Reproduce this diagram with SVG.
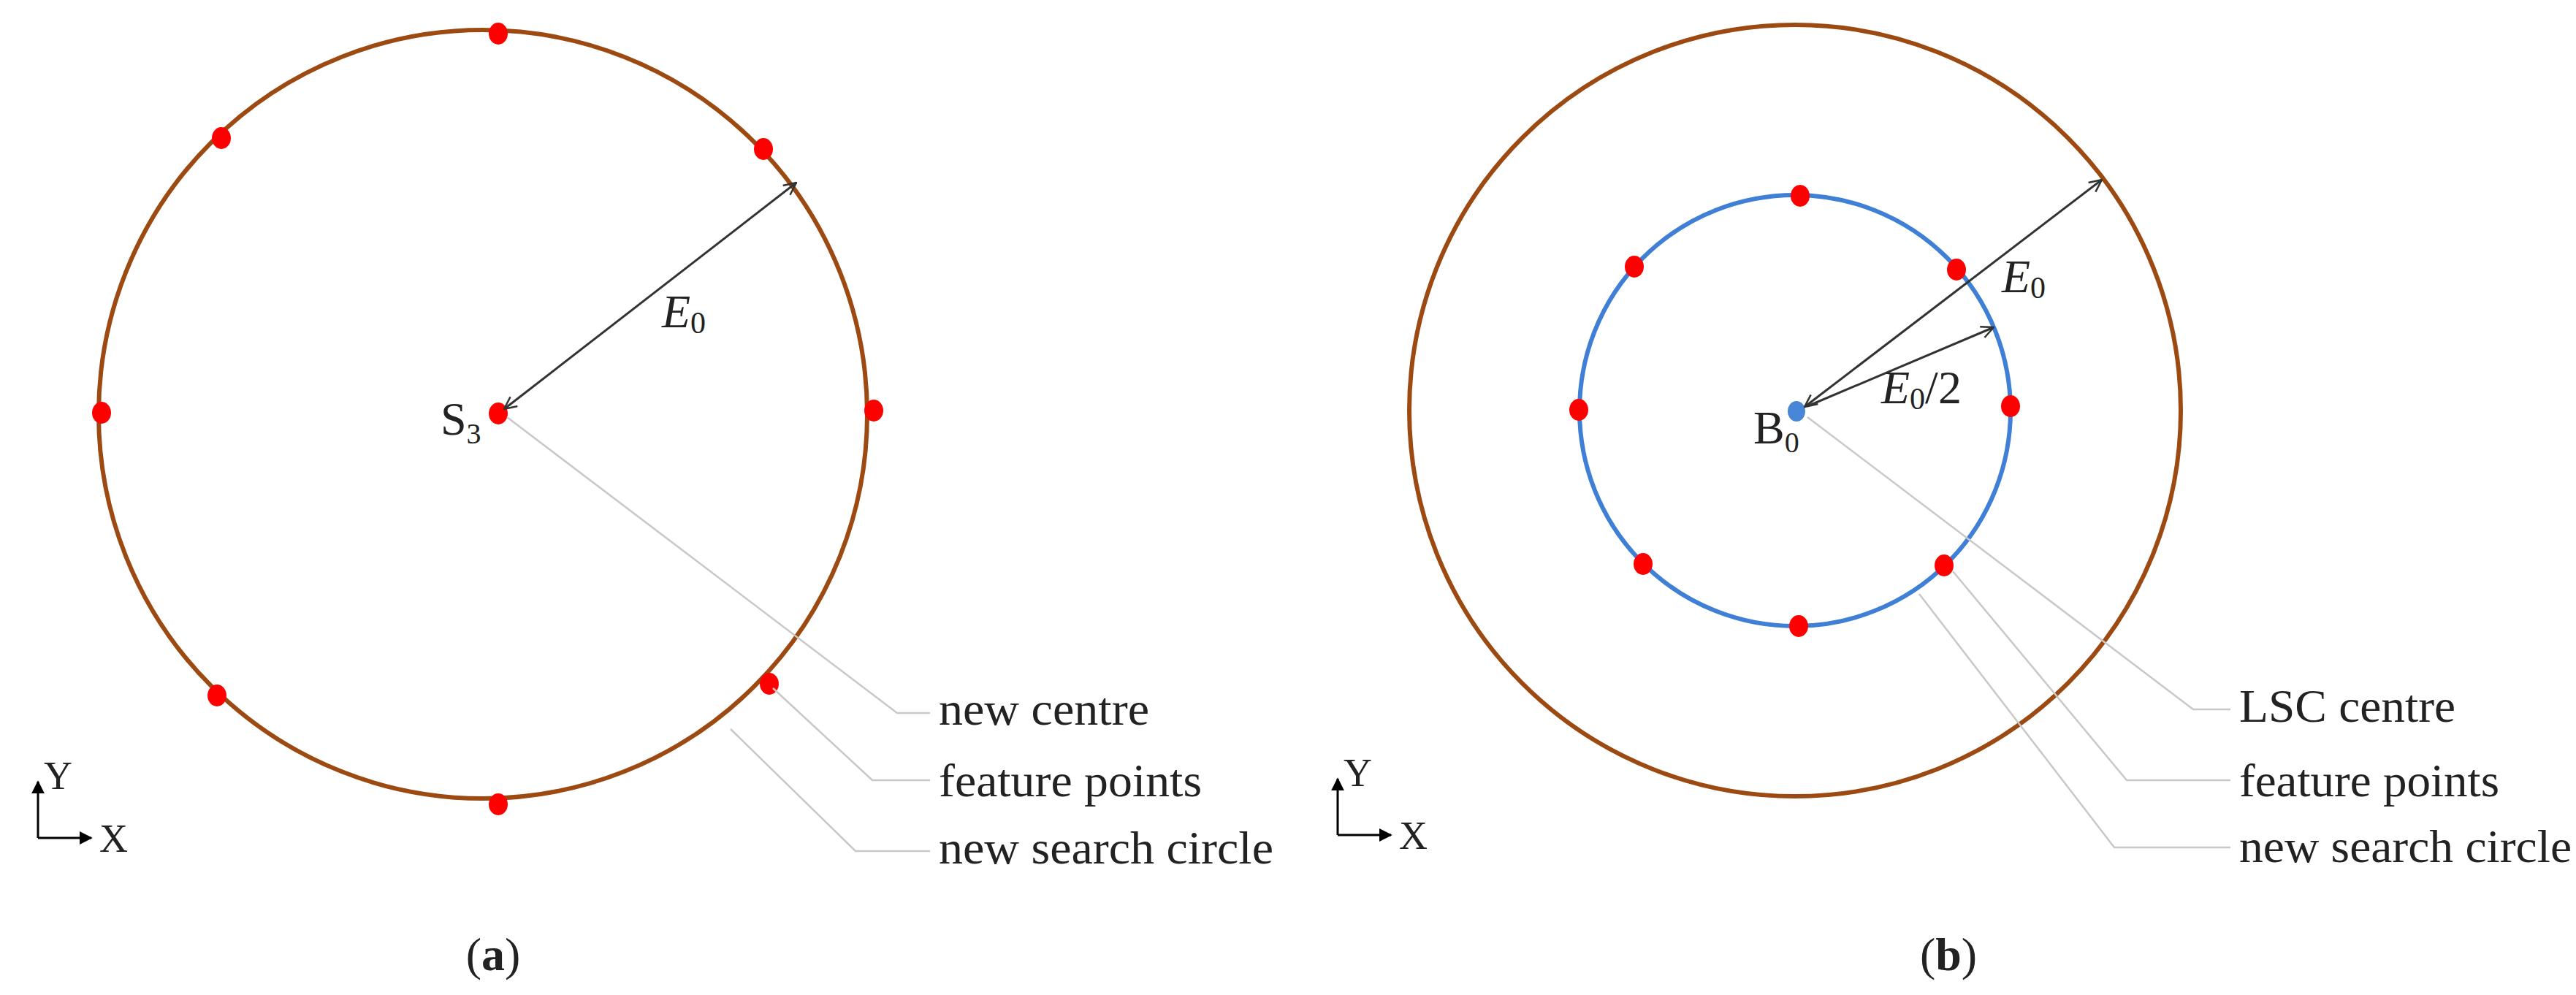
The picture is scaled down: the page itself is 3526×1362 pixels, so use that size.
<svg xmlns="http://www.w3.org/2000/svg" width="3526" height="1362" viewBox="0 0 3526 1362">
<style>
.br{fill:none;stroke:#9c4a12;stroke-width:6}
.bl{fill:none;stroke:#3f7fd6;stroke-width:6}
.pt{fill:#ff0000}
.ld{fill:none;stroke:#c8c8c8;stroke-width:2.5}
.ar{stroke:#333;stroke-width:3;fill:none}
.ax{stroke:#000;stroke-width:3;fill:none}
text{font-family:"Liberation Serif","Times New Roman",serif;fill:#222}
.lb{font-size:64px}
.it{font-style:italic}
</style>
<defs>
<marker id="oa" viewBox="0 0 20 20" refX="19" refY="10" markerWidth="20" markerHeight="20" markerUnits="userSpaceOnUse" orient="auto-start-reverse"><path d="M2,2 L19,10 L2,18" fill="none" stroke="#333" stroke-width="2.5"/></marker>
<marker id="fa" viewBox="0 0 10 10" refX="9" refY="5" markerWidth="18" markerHeight="18" markerUnits="userSpaceOnUse" orient="auto"><path d="M0,0 L10,5 L0,10 z" fill="#000"/></marker>
</defs>
<g id="panel-a">
<circle id="search-circle-a" class="br" cx="661" cy="567" r="526"/>
<g id="points-a">
<ellipse class="pt" cx="682" cy="46" rx="13" ry="15"/>
<ellipse class="pt" cx="303" cy="189" rx="13" ry="15"/>
<ellipse class="pt" cx="1045" cy="204" rx="13" ry="15"/>
<ellipse class="pt" cx="139" cy="565" rx="13" ry="15"/>
<ellipse class="pt" cx="1196" cy="562" rx="13" ry="15"/>
<ellipse class="pt" cx="297" cy="952" rx="13" ry="15"/>
<ellipse class="pt" cx="1053" cy="936" rx="13" ry="15"/>
<ellipse class="pt" cx="682" cy="1101" rx="13" ry="15"/>
</g>
<g id="S3"><ellipse class="pt" cx="682" cy="566" rx="13" ry="15"/>
<text class="lb" x="603" y="595">S<tspan font-size="40" dy="12">3</tspan></text></g>
<g id="connectors-a">
<line class="ar" x1="690" y1="560" x2="1090" y2="250" marker-start="url(#oa)" marker-end="url(#oa)"/>
<polyline class="ld" points="694,571 1228,976 1273,976"/>
<polyline class="ld" points="1058,942 1194,1068 1273,1068"/>
<polyline class="ld" points="1000,998 1171,1165 1273,1165"/>
<polyline class="ax" points="52,1147 52,1070" marker-end="url(#fa)"/>
<polyline class="ax" points="52,1147 125,1147" marker-end="url(#fa)"/>
</g>
<text class="lb it" x="906" y="448">E<tspan font-size="42" dy="8" font-style="normal">0</tspan></text>
<text class="lb" x="1285" y="992" textLength="288" lengthAdjust="spacingAndGlyphs">new centre</text>
<text class="lb" x="1285" y="1090" textLength="360" lengthAdjust="spacingAndGlyphs">feature points</text>
<text class="lb" x="1285" y="1182" textLength="458" lengthAdjust="spacingAndGlyphs">new search circle</text>
<text x="60" y="1080" font-size="54">Y</text>
<text x="136" y="1166" font-size="54">X</text>
<text x="675" y="1328" font-size="64" text-anchor="middle">(<tspan font-weight="bold">a</tspan>)</text>
</g>
<g id="panel-b">
<circle id="search-circle-b" class="br" cx="2457" cy="562" r="528"/>
<circle id="lsc" class="bl" cx="2457" cy="562" r="295"/>
<g id="points-b">
<ellipse class="pt" cx="2464" cy="268" rx="13" ry="15"/>
<ellipse class="pt" cx="2237" cy="365" rx="13" ry="15"/>
<ellipse class="pt" cx="2678" cy="369" rx="13" ry="15"/>
<ellipse class="pt" cx="2161" cy="561" rx="13" ry="15"/>
<ellipse class="pt" cx="2752" cy="556" rx="13" ry="15"/>
<ellipse class="pt" cx="2249" cy="772" rx="13" ry="15"/>
<ellipse class="pt" cx="2661" cy="774" rx="13" ry="15"/>
<ellipse class="pt" cx="2462" cy="857" rx="13" ry="15"/>
</g>
<g id="B0"><ellipse cx="2459" cy="563" rx="12" ry="14" fill="#4a86d8"/>
<text class="lb" x="2400" y="607">B<tspan font-size="40" dy="12">0</tspan></text></g>
<g id="connectors-b">
<line class="ar" x1="2470" y1="557" x2="2877" y2="246" marker-start="url(#oa)" marker-end="url(#oa)"/>
<line class="ar" x1="2474" y1="556" x2="2729" y2="448" marker-end="url(#oa)"/>
<polyline class="ld" points="2474,571 3002,971 3053,971"/>
<polyline class="ld" points="2673,782 2911,1068 3053,1068"/>
<polyline class="ld" points="2627,813 2894,1160 3053,1160"/>
<polyline class="ax" points="1831,1143 1831,1066" marker-end="url(#fa)"/>
<polyline class="ax" points="1831,1143 1904,1143" marker-end="url(#fa)"/>
</g>
<text class="lb it" x="2740" y="400">E<tspan font-size="42" dy="8" font-style="normal">0</tspan></text>
<text class="lb it" x="2575" y="552">E<tspan font-size="42" dy="8" font-style="normal">0</tspan><tspan dy="-8" font-style="normal">/2</tspan></text>
<text class="lb" x="3065" y="988" textLength="296" lengthAdjust="spacingAndGlyphs">LSC centre</text>
<text class="lb" x="3065" y="1090" textLength="356" lengthAdjust="spacingAndGlyphs">feature points</text>
<text class="lb" x="3065" y="1180" textLength="455" lengthAdjust="spacingAndGlyphs">new search circle</text>
<text x="1839" y="1076" font-size="54">Y</text>
<text x="1915" y="1162" font-size="54">X</text>
<text x="2667" y="1328" font-size="64" text-anchor="middle">(<tspan font-weight="bold">b</tspan>)</text>
</g>
</svg>
